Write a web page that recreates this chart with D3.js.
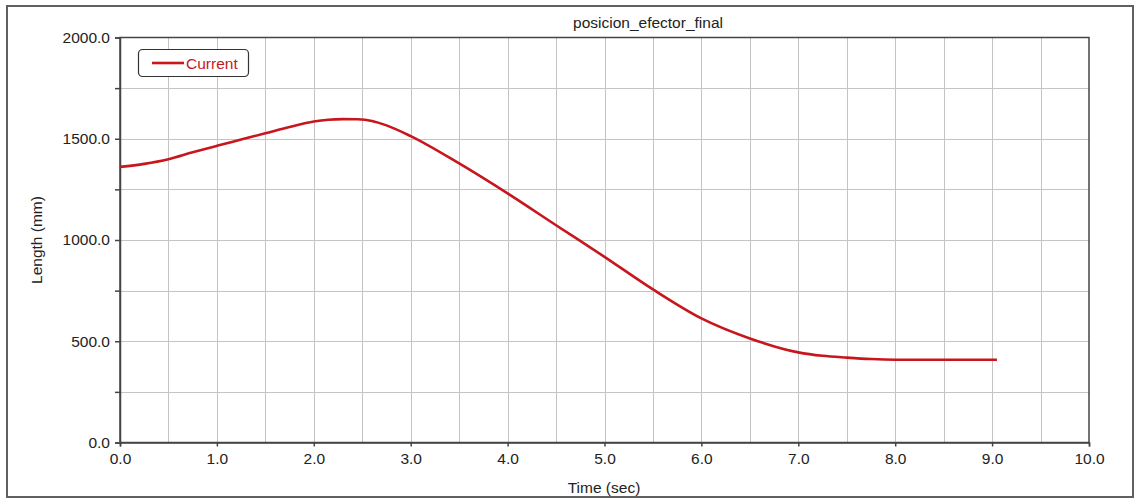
<!DOCTYPE html>
<html><head><meta charset="utf-8">
<script src="https://cdn.jsdelivr.net/npm/d3@7"></script>
<style>body{margin:0;background:#fff;}svg{display:block;font-family:"Liberation Sans",Arial,sans-serif;}</style>
</head><body>
<svg id="c" width="1135" height="500"></svg>
<script>
const title = "posicion_efector_final";
const xLabel = "Time (sec)";
const yLabel = "Length (mm)";
const seriesName = "Current";
const timeSec = [0, 0.25, 0.5, 0.75, 1.0, 1.25, 1.5, 1.75, 2.0, 2.15, 2.3, 2.45, 2.6, 2.75, 3.0, 3.5, 4.0, 4.5, 5.0, 5.5, 6.0, 6.5, 7.0, 7.25, 7.5, 7.75, 8.0, 8.5, 9.05];
const lengthMm = [1361, 1376, 1399, 1433, 1465, 1496, 1527, 1558, 1585, 1594, 1597, 1596, 1588, 1566, 1513, 1378, 1230, 1073, 917, 756, 613, 514, 445, 428, 419, 412, 409, 409, 409];
const xTicks = [0,1,2,3,4,5,6,7,8,9,10];
const yTicks = [0,500,1000,1500,2000];

const svg = d3.select("#c");
const L=120, R=1089, T=37.5, B=442.5;
const x = d3.scaleLinear().domain([0,10]).range([L,R]);
const y = d3.scaleLinear().domain([0,2000]).range([B,T]);

svg.append("rect").attr("x",7).attr("y",6).attr("width",1126).attr("height",491)
  .attr("fill","#fff").attr("stroke","#606060").attr("stroke-width",2);

const g = svg.append("g");
g.selectAll(".vg").data(d3.range(0.5,10,0.5)).join("line")
  .attr("x1",d=>Math.round(x(d))+0.5).attr("x2",d=>Math.round(x(d))+0.5)
  .attr("y1",T).attr("y2",B).attr("stroke","#c4c4c4").attr("stroke-width",1);
g.selectAll(".hg").data(d3.range(250,2000,250)).join("line")
  .attr("y1",d=>Math.round(y(d))+0.5).attr("y2",d=>Math.round(y(d))+0.5)
  .attr("x1",L).attr("x2",R).attr("stroke","#c4c4c4").attr("stroke-width",1);

svg.append("rect").attr("x",L).attr("y",T).attr("width",R-L).attr("height",B-T)
  .attr("fill","none").attr("stroke","#444").attr("stroke-width",1.5);

const xAxis = svg.append("g").attr("transform",`translate(0,${B})`)
  .call(d3.axisBottom(x).tickValues(xTicks).tickFormat(d3.format(".1f")).tickSize(4).tickPadding(6));
const yAxis = svg.append("g").attr("transform",`translate(${L},0)`)
  .call(d3.axisLeft(y).tickValues(d3.range(0,2001,250)).tickFormat(d=>yTicks.includes(d)?d3.format(".1f")(d):"").tickSize(5).tickPadding(5));
[xAxis,yAxis].forEach(a=>{
  a.select(".domain").attr("stroke","#444").attr("stroke-width",1.5);
  a.selectAll(".tick line").attr("stroke","#444").attr("stroke-width",1.5);
  a.selectAll("text").attr("fill","#222").attr("font-size","15.5px").attr("font-family","Liberation Sans, Arial, sans-serif");
});

const line = d3.line().x((d,i)=>x(timeSec[i])).y(d=>y(d)).curve(d3.curveMonotoneX);
svg.append("path").attr("d",line(lengthMm)).attr("fill","none")
  .attr("stroke","#c8161d").attr("stroke-width",2.6);

svg.append("text").attr("x",648).attr("y",28).attr("text-anchor","middle")
  .attr("font-size","15.5px").attr("fill","#222").text(title);
svg.append("text").attr("x",604).attr("y",493).attr("text-anchor","middle")
  .attr("font-size","15.5px").attr("fill","#222").text(xLabel);
svg.append("text").attr("transform","translate(42,240) rotate(-90)").attr("text-anchor","middle")
  .attr("font-size","15.5px").attr("fill","#222").text(yLabel);

svg.append("rect").attr("x",138.5).attr("y",49.5).attr("width",110).attr("height",27).attr("rx",4)
  .attr("fill","#fff").attr("stroke","#333").attr("stroke-width",1.2);
svg.append("line").attr("x1",152).attr("x2",184).attr("y1",63).attr("y2",63)
  .attr("stroke","#c8161d").attr("stroke-width",2.6);
svg.append("text").attr("x",186).attr("y",69).attr("font-size","15.5px").attr("fill","#c8161d").text(seriesName);
</script>
</body></html>
